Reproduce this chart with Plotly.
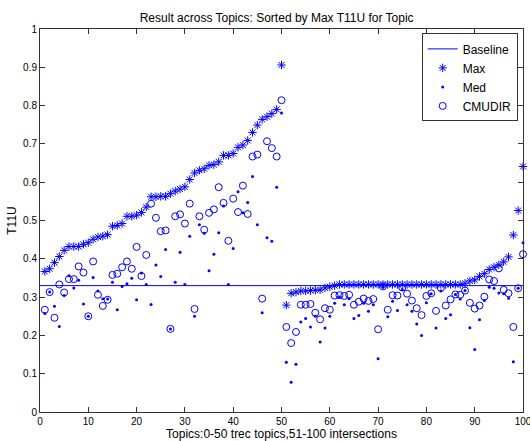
import plotly.graph_objects as go

topics = list(range(1, 101))
baseline_value = 0.33

max_vals = [
    0.367, 0.374, 0.390, 0.406, 0.422, 0.432, 0.432, 0.432, 0.438, 0.442,
    0.451, 0.457, 0.459, 0.463, 0.485, 0.487, 0.492, 0.511, 0.511, 0.514,
    0.521, 0.535, 0.562, 0.562, 0.563, 0.563, 0.570, 0.577, 0.582, 0.588,
    0.607, 0.624, 0.631, 0.635, 0.644, 0.646, 0.653, 0.670, 0.670, 0.675,
    0.691, 0.697, 0.709, 0.730, 0.749, 0.764, 0.771, 0.779, 0.790, 0.906,
    0.279, 0.310, 0.313, 0.316, 0.316, 0.317, 0.318, 0.319, 0.324, 0.327,
    0.330, 0.333, 0.333, 0.333, 0.333, 0.333, 0.333, 0.333, 0.333, 0.333,
    0.333, 0.333, 0.333, 0.333, 0.333, 0.333, 0.333, 0.333, 0.333, 0.333,
    0.333, 0.333, 0.333, 0.333, 0.333, 0.333, 0.333, 0.336, 0.342, 0.345,
    0.354, 0.361, 0.372, 0.378, 0.384, 0.392, 0.405, 0.462, 0.526, 0.641,
]

med_vals = [
    0.257, 0.313, 0.276, 0.223, 0.304, 0.356, 0.324, 0.344, 0.282, 0.250,
    0.351, 0.316, 0.296, 0.295, 0.339, 0.267, 0.328, 0.335, 0.349, 0.293,
    0.363, 0.333, 0.281, 0.384, 0.354, 0.424, 0.217, 0.339, 0.417, 0.333,
    0.459, 0.250, 0.489, 0.467, 0.369, 0.412, 0.468, 0.538, 0.333, 0.427,
    0.575, 0.520, 0.547, 0.615, 0.489, 0.259, 0.455, 0.446, 0.587, 0.781,
    0.130, 0.078, 0.125, 0.235, 0.244, 0.222, 0.250, 0.183, 0.219, 0.250,
    0.284, 0.300, 0.280, 0.296, 0.244, 0.252, 0.284, 0.263, 0.280, 0.139,
    0.326, 0.249, 0.289, 0.265, 0.320, 0.280, 0.263, 0.230, 0.200, 0.285,
    0.309, 0.219, 0.316, 0.244, 0.254, 0.307, 0.295, 0.317, 0.220, 0.163,
    0.241, 0.291, 0.326, 0.323, 0.311, 0.309, 0.297, 0.131, 0.323, 0.442,
]

cmudir_vals = [
    0.267, 0.313, 0.246, 0.333, 0.312, 0.347, 0.347, 0.380, 0.364, 0.250,
    0.393, 0.306, 0.277, 0.293, 0.358, 0.361, 0.378, 0.393, 0.374, 0.431,
    0.355, 0.410, 0.544, 0.507, 0.472, 0.474, 0.217, 0.511, 0.516, 0.492,
    0.544, 0.269, 0.511, 0.476, 0.520, 0.529, 0.587, 0.546, 0.447, 0.557,
    0.522, 0.591, 0.517, 0.667, 0.672, 0.296, 0.707, 0.689, 0.667, 0.814,
    0.222, 0.180, 0.209, 0.280, 0.280, 0.282, 0.259, 0.242, 0.271, 0.267,
    0.304, 0.305, 0.303, 0.306, 0.280, 0.288, 0.296, 0.290, 0.295, 0.216,
    0.328, 0.267, 0.305, 0.304, 0.325, 0.309, 0.291, 0.271, 0.253, 0.303,
    0.310, 0.264, 0.324, 0.278, 0.294, 0.307, 0.306, 0.317, 0.285, 0.270,
    0.278, 0.301, 0.346, 0.342, 0.375, 0.319, 0.310, 0.222, 0.323, 0.412,
]

x_ticks = [0, 10, 20, 30, 40, 50, 60, 70, 80, 90, 100]
y_ticks = [0, 0.1, 0.2, 0.3, 0.4, 0.5, 0.6, 0.7, 0.8, 0.9, 1]
y_tick_text = ["0", "0.1", "0.2", "0.3", "0.4", "0.5", "0.6", "0.7", "0.8", "0.9", "1"]

blue = "#0000ff"
font = "Liberation Sans, Arial, Helvetica, sans-serif"

fig = go.Figure()
fig.add_trace(go.Scatter(
    x=[0, 100], y=[baseline_value, baseline_value], mode="lines",
    name="Baseline", line=dict(color=blue, width=1), cliponaxis=False,
))
fig.add_trace(go.Scatter(
    x=topics, y=max_vals, mode="markers", name="Max",
    marker=dict(symbol="asterisk-open", size=7, color=blue,
                line=dict(color=blue, width=1)),
    cliponaxis=False,
))
fig.add_trace(go.Scatter(
    x=topics, y=med_vals, mode="markers", name="Med",
    marker=dict(symbol="circle", size=3, color=blue),
    cliponaxis=False,
))
fig.add_trace(go.Scatter(
    x=topics, y=cmudir_vals, mode="markers", name="CMUDIR",
    marker=dict(symbol="circle-open", size=7, color=blue,
                line=dict(color=blue, width=1)),
    cliponaxis=False,
))

axis_common = dict(
    showgrid=False, zeroline=False, showline=True, linecolor="#333333",
    linewidth=1, mirror="ticks", ticks="inside", ticklen=5,
    tickcolor="#333333", tickfont=dict(family=font, size=10, color="black"),
    ticklabeloverflow="allow",
)

fig.update_layout(
    width=530, height=441,
    margin=dict(l=40, r=7, t=29, b=29, pad=0),
    paper_bgcolor="white", plot_bgcolor="white",
    font=dict(family=font, color="black"),
    title=dict(text="Result across Topics: Sorted by Max T11U for Topic",
               x=0.49, xref="paper", xanchor="center",
               y=1 - 18 / 441, yanchor="middle", yref="container",
               font=dict(family=font, size=12, color="black")),
    xaxis=dict(range=[0, 100], tickvals=x_ticks, automargin=False,
               title=dict(text="Topics:0-50 trec topics,51-100 intersections",
                          font=dict(family=font, size=12, color="black")),
               **axis_common),
    yaxis=dict(range=[0, 1], tickvals=y_ticks, ticktext=y_tick_text,
               automargin=True,
               title=dict(text="T11U",
                          font=dict(family=font, size=12, color="black"),
                          standoff=3),
               **axis_common),
    legend=dict(x=0.989, y=0.9885, xanchor="right", yanchor="top",
                bgcolor="white", bordercolor="#333333", borderwidth=1,
                font=dict(family=font, size=12, color="black"),
                tracegroupgap=0, itemwidth=30),
    showlegend=True,
)

fig.write_html(
    "out.html",
    config={"displayModeBar": False},
    post_script="document.body.style.margin='0';document.body.style.overflow='hidden';",
)
